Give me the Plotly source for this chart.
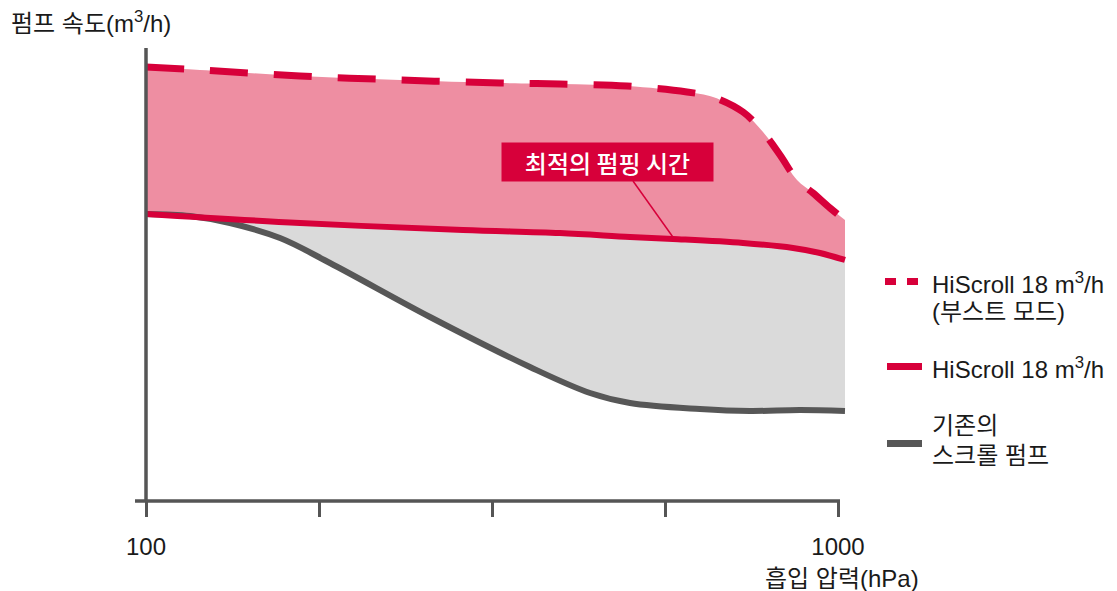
import plotly.graph_objects as go

# ---- data (x: 흡입 압력 hPa, y: 펌프 속도 relative units) ----
boost_x = [100, 170.2, 300.3, 430.3, 560.4, 638.4, 725.6, 803.6, 837.4, 876.5, 902.5, 924.6, 946.7, 967.5, 989.6, 1009.1]
boost_y = [95.16, 94.51, 93.19, 92.31, 91.65, 91.43, 90.99, 89.67, 88.57, 85.27, 80.88, 75.82, 70.33, 67.47, 64.18, 61.54]

std_x = [100, 300.3, 512.3, 638.4, 729.5, 785.4, 876.5, 941.5, 976.6, 1009.1]
std_y = [62.86, 60.88, 59.34, 58.68, 57.80, 57.36, 56.48, 55.38, 54.29, 52.75]

old_x = [100, 157.2, 209.2, 274.3, 339.3, 469.4, 599.4, 677.5, 729.5, 820.5, 885.5, 950.6, 1009.1]
old_y = [62.86, 62.42, 60.88, 57.58, 52.09, 40.22, 29.23, 23.52, 21.32, 20.0, 19.56, 19.78, 19.56]

tick_vals = [100, 325, 550, 775, 1000]
tick_text = ["100", "", "", "", "1000"]

RED = "#D7003A"
PINK = "#EE8EA2"
GREYFILL = "#DADADA"
GREYLINE = "#575757"
AXIS = "#555555"
TXT = "#1a1a1a"
FONT = "Liberation Sans, Noto Sans CJK KR, sans-serif"

W, H = 1117, 591
OFF = 8  # page body margin


def px(x):
    return (x - OFF) / W


def py(y):
    return 1 - (y - OFF) / H


fig = go.Figure()
# fills
fig.add_trace(go.Scatter(x=old_x, y=old_y, mode="lines", line=dict(width=0, shape="spline"),
                         showlegend=False, hoverinfo="skip"))
fig.add_trace(go.Scatter(x=std_x, y=std_y, mode="lines", line=dict(width=0, shape="spline"),
                         fill="tonexty", fillcolor=GREYFILL, showlegend=False, hoverinfo="skip"))
fig.add_trace(go.Scatter(x=boost_x, y=boost_y, mode="lines", line=dict(width=0, shape="spline"),
                         fill="tonexty", fillcolor=PINK, showlegend=False, hoverinfo="skip"))
# lines
fig.add_trace(go.Scatter(x=old_x, y=old_y, mode="lines",
                         line=dict(width=6, color=GREYLINE, shape="spline"), showlegend=False))
fig.add_trace(go.Scatter(x=std_x, y=std_y, mode="lines",
                         line=dict(width=6, color=RED, shape="spline"), showlegend=False))
fig.add_trace(go.Scatter(x=boost_x, y=boost_y, mode="lines",
                         line=dict(width=7, color=RED, shape="spline", dash="38px,26px"), showlegend=False))

shapes = [
    # axes lines
    dict(type="line", xref="paper", yref="paper", x0=px(146), x1=px(146), y0=py(48), y1=py(501),
         line=dict(color=AXIS, width=3.5), layer="above"),
    dict(type="line", xref="paper", yref="paper", x0=px(135), x1=px(840), y0=py(501), y1=py(501),
         line=dict(color=AXIS, width=3.5), layer="above"),
    # annotation pointer
    dict(type="line", xref="paper", yref="paper", x0=px(633), x1=px(675), y0=py(181), y1=py(240),
         line=dict(color=RED, width=1.5), layer="above"),
    # legend samples
    dict(type="rect", xref="paper", yref="paper", x0=px(885), x1=px(896), y0=py(278), y1=py(285),
         fillcolor=RED, line=dict(width=0)),
    dict(type="rect", xref="paper", yref="paper", x0=px(907), x1=px(918), y0=py(278), y1=py(285),
         fillcolor=RED, line=dict(width=0)),
    dict(type="rect", xref="paper", yref="paper", x0=px(887), x1=px(922), y0=py(363), y1=py(370),
         fillcolor=RED, line=dict(width=0)),
    dict(type="rect", xref="paper", yref="paper", x0=px(887), x1=px(922), y0=py(440), y1=py(447),
         fillcolor=GREYLINE, line=dict(width=0)),
]

ann = []


def text(t, x, y, size=24, xanchor="left", color=TXT):
    ann.append(dict(text=t, xref="paper", yref="paper", x=px(x), y=py(y), xanchor=xanchor,
                    yanchor="middle", showarrow=False, font=dict(size=size, color=color, family=FONT)))


text("펌프 속도(m<sup>3</sup>/h)", 9, 22)
text("흡입 압력(hPa)", 921, 578, xanchor="right")
text("HiScroll 18 m<sup>3</sup>/h", 930, 283)
text("(부스트 모드)", 930, 312)
text("HiScroll 18 m<sup>3</sup>/h", 930, 368)
text("기존의", 930, 425)
text("스크롤 펌프", 930, 455)

ann.append(dict(text="최적의 펌핑 시간", xref="paper", yref="paper", x=px(607.5), y=py(162),
                xanchor="center", yanchor="middle", showarrow=False, bgcolor=RED, borderpad=0,
                width=211, height=38,
                font=dict(size=24, color="white", family="Noto Sans CJK KR, sans-serif", weight=500)))

fig.update_layout(
    width=W, height=H,
    margin=dict(l=0, r=0, t=0, b=0),
    paper_bgcolor="white", plot_bgcolor="white",
    shapes=shapes, annotations=ann,
    xaxis=dict(range=[-79.48, 1373.27], anchor="free", position=(H - (501 - OFF)) / H,
               tickvals=tick_vals, ticktext=tick_text, ticks="outside", ticklen=15,
               tickwidth=3, tickcolor=AXIS, showline=False, showgrid=False, zeroline=False,
               tickfont=dict(size=24, color=TXT, family=FONT), ticklabelstandoff=9, fixedrange=True),
    yaxis=dict(range=[-21.76, 108.13], visible=False, fixedrange=True),
)

fig.write_html("out.html")
